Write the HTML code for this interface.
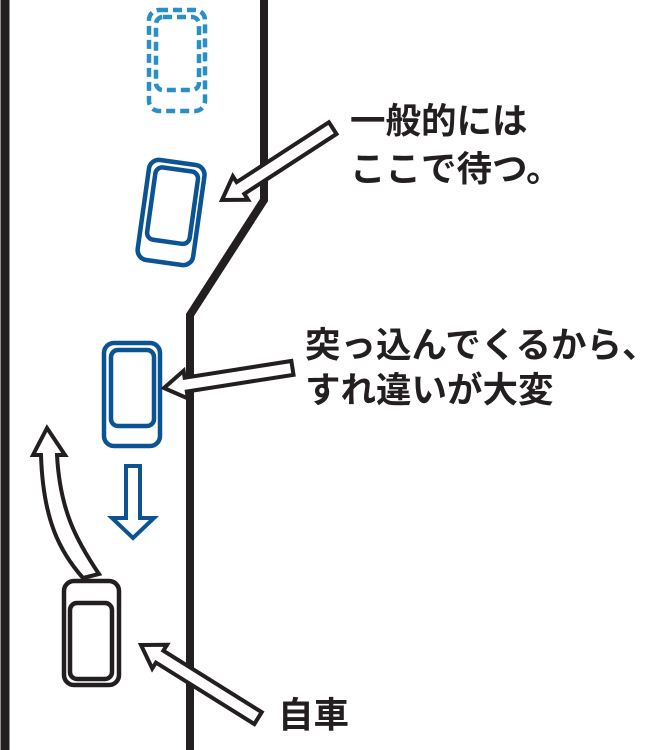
<!DOCTYPE html>
<html><head><meta charset="utf-8"><style>
html,body{margin:0;padding:0;background:#fff;}
svg{display:block}
text{font-family:"Liberation Sans","Noto Sans CJK JP",sans-serif;font-weight:bold;fill:#231f20;font-size:35.5px;}
</style></head><body>
<svg width="672" height="750" viewBox="0 0 672 750" xmlns="http://www.w3.org/2000/svg">
<line x1="5" y1="0" x2="5" y2="750" stroke="#231f20" stroke-width="9"/>
<polyline points="264,0 264,200 190,315 190,750" fill="none" stroke="#231f20" stroke-width="8"/>
<g fill="none" stroke="#2a8fc5" stroke-width="4.5" stroke-dasharray="9,5">
<rect x="149" y="10" width="56" height="101" rx="10"/>
<rect x="156" y="17" width="43" height="73" rx="7"/>
</g>
<g fill="none" stroke="#0b5393" stroke-width="4.5" transform="rotate(8 171 213)">
<rect x="143" y="162" width="56" height="101" rx="10"/>
<rect x="150" y="169" width="43" height="73" rx="7"/>
</g>
<g fill="none" stroke="#0b5393" stroke-width="4.5">
<rect x="104" y="343" width="56" height="103" rx="10"/>
<rect x="111" y="350" width="43" height="76" rx="7"/>
</g>
<polygon points="126,466 140,466 140,518 154,518 133,538 112,518 126,518" fill="#fff" stroke="#0b5393" stroke-width="4"/>
<g fill="none" stroke="#231f20" stroke-width="4.5">
<rect x="64" y="581" width="55" height="104" rx="10"/>
<rect x="70" y="603" width="42" height="76" rx="7"/>
</g>
<path d="M99,574 C76,540 60,510 57,455 L65,455 L47,428 L33,455 L41,455 C43,520 60,552 83,578 Z" fill="#fff" stroke="#231f20" stroke-width="4"/>
<g fill="#fff" stroke="#231f20" stroke-width="4">
<polygon transform="translate(222,200) rotate(-33)" points="0,0 22,-14 22,-7 132,-7 132,7 22,7 22,14"/>
<polygon transform="translate(164,388) rotate(-8.9)" points="0,0 22,-14 22,-7 130,-7 130,7 22,7 22,14"/>
<polygon transform="translate(141,645) rotate(32)" points="0,0 22,-14 22,-7 138,-7 138,7 22,7 22,14"/>
</g>
<text x="350" y="133">一般的には</text>
<text x="350" y="181">ここで待つ。</text>
<text x="305" y="357">突っ込んでくるから、</text>
<text x="305" y="402">すれ違いが大変</text>
<text x="278" y="727">自車</text>
</svg>
</body></html>
